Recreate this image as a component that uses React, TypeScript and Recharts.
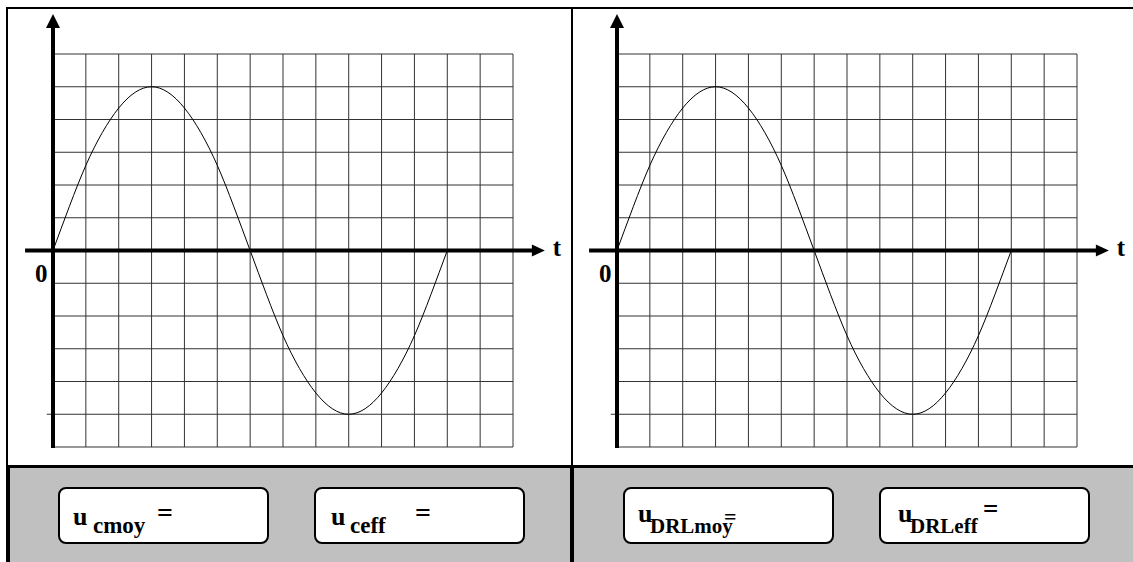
import React from "react";
import {
  LineChart, Line, XAxis, YAxis, ReferenceLine, ReferenceDot,
} from "recharts";

// time, in grid divisions (one period = 12 divisions)
const times = [
  0, 0.5, 1, 1.5, 2, 2.5, 3, 3.5, 4, 4.5, 5, 5.5, 6,
  6.5, 7, 7.5, 8, 8.5, 9, 9.5, 10, 10.5, 11, 11.5, 12,
];
// trace u(t), in grid divisions
const volts = [
  0, 1.35, 2.6, 3.6, 4.35, 4.83, 5, 4.83, 4.35, 3.6, 2.6, 1.35, 0,
  -1.35, -2.6, -3.6, -4.35, -4.83, -5, -4.83, -4.35, -3.6, -2.6, -1.35, 0,
];
const xTicks = [0, 1, 2, 3, 4, 5, 6, 7, 8, 9, 10, 11, 12, 13, 14];
const yTicks = [-6, -5, -4, -3, -2, -1, 0, 1, 2, 3, 4, 5, 6];

// result boxes under each screen: main symbol + subscript
const boxSymbols = ["u", "u", "u", "u"];
const boxSubs = ["cmoy", "ceff", "DRLmoy", "DRLeff"];

const table = times.map((t, i) => ({ t, u: volts[i] }));

const FONT = '"Liberation Serif", "Times New Roman", serif';
const CHART_W = 570;
const CHART_H = 466;
const MARGIN = { top: 54, right: 57, bottom: 19, left: 53 };
const GRID = "#333";

const UpArrow = (p: any) => (
  <path d={`M${p.cx},${p.cy} L${p.cx - 7},${p.cy + 14} L${p.cx + 7},${p.cy + 14} Z`} fill="#000" />
);

const RightArrow = (p: any) => (
  <g>
    <path d={`M${p.cx},${p.cy} L${p.cx - 13},${p.cy - 6} L${p.cx - 13},${p.cy + 6} Z`} fill="#000" />
    <text x={p.cx + 8} y={p.cy + 5} fontFamily={FONT} fontWeight="bold" fontSize={25} fill="#000">t</text>
  </g>
);

const Origin = (p: any) => (
  <text x={p.cx - 18} y={p.cy + 31} fontFamily={FONT} fontWeight="bold" fontSize={25} fill="#000">0</text>
);

function Scope({ left }: { left: number }) {
  return (
    <div style={{ position: "absolute", left, top: 0 }}>
      <LineChart width={CHART_W} height={CHART_H} data={table} margin={MARGIN}>
        <XAxis type="number" dataKey="t" domain={[0, 14]} ticks={xTicks}
          tick={false} tickLine={false} axisLine={false} height={0} />
        <YAxis type="number" domain={[-6, 6]} ticks={yTicks}
          tick={false} tickLine={false} axisLine={false} width={0} />
        {xTicks.map((v) => (
          <ReferenceLine key={`gx${v}`} x={v} stroke={GRID} strokeWidth={1} />
        ))}
        {yTicks.map((v) => (
          <ReferenceLine key={`gy${v}`} y={v} stroke={GRID} strokeWidth={1} />
        ))}
        <ReferenceLine segment={[{ x: -0.19, y: -5 }, { x: 0, y: -5 }]} stroke={GRID} ifOverflow="visible" />
        <Line dataKey="u" type="natural" stroke="#000" strokeWidth={1}
          dot={false} isAnimationActive={false} />
        <ReferenceLine segment={[{ x: 0, y: -6.03 }, { x: 0, y: 6.85 }]}
          stroke="#000" strokeWidth={4} ifOverflow="visible" />
        <ReferenceLine segment={[{ x: -0.85, y: 0 }, { x: 14.6, y: 0 }]}
          stroke="#000" strokeWidth={4} ifOverflow="visible" />
        <ReferenceDot x={0} y={7.22} ifOverflow="visible" shape={UpArrow} />
        <ReferenceDot x={14.97} y={0} ifOverflow="visible" shape={RightArrow} />
        <ReferenceDot x={0} y={0} ifOverflow="visible" shape={Origin} />
      </LineChart>
    </div>
  );
}

const block = (left: number, top: number, width: number, height: number, bg = "#000") => (
  <div style={{ position: "absolute", left, top, width, height, background: bg }} />
);

// box frame left edges and text anchors
const boxLeft = [58, 314, 623, 879];
const symX = [73, 331, 638, 898];
const symY = [525, 525, 522, 522];
const subX = [93, 350, 650, 910];
const subSize = [23, 23, 21, 21];
const eqX = [157, 415, 724, 983];
const eqY = [522, 522, 524, 518];
const eqSize = [28, 28, 22, 27];

export default function App() {
  return (
    <div style={{ position: "absolute", left: 0, top: 0, width: 1133, height: 562, background: "#fff", overflow: "hidden" }}>
      {block(7, 466, 1126, 96, "#c0c0c0")}
      {block(7, 7, 1126, 2)}
      {block(6, 7, 2, 460)}
      {block(6, 466, 4, 96)}
      {block(571, 7, 2, 460)}
      {block(570, 466, 4, 96)}
      {block(6, 465, 1127, 3)}

      <Scope left={0} />
      <Scope left={564} />

      {boxLeft.map((l, i) => (
        <div key={i} style={{
          position: "absolute", left: l, top: 487, width: 211, height: 57, boxSizing: "border-box",
          border: "2px solid #000", borderRadius: 8, background: "#fff",
        }} />
      ))}

      <svg width={1133} height={562} style={{ position: "absolute", left: 0, top: 0, pointerEvents: "none" }}>
        {boxSubs.map((s, i) => (
          <g key={i} fontFamily={FONT} fontWeight="bold" fill="#000">
            <text x={symX[i]} y={symY[i]} fontSize={26}>{boxSymbols[i]}</text>
            <text x={subX[i]} y={533} fontSize={subSize[i]}>{s}</text>
            <text x={eqX[i]} y={eqY[i]} fontSize={eqSize[i]}>=</text>
          </g>
        ))}
      </svg>
    </div>
  );
}
